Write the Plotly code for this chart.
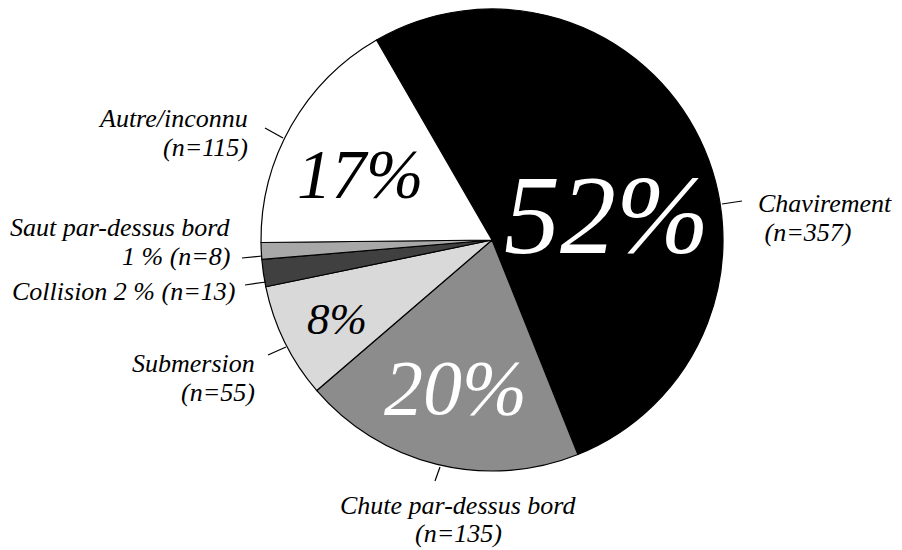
import plotly.graph_objects as go

# Causes of boating fatalities (counts), clockwise from the top-left
categories = ["Chavirement", "Chute par-dessus bord", "Submersion",
              "Collision", "Saut par-dessus bord", "Autre/inconnu"]
counts = [357, 135, 55, 13, 8, 115]
percent_text = ["52%", "20%", "8%", "", "", "17%"]
label_lines = [
    ["Chavirement", " (n=357)"],
    ["Chute par-dessus bord", "(n=135)"],
    ["Submersion", "(n=55)"],
    ["Collision 2 % (n=13)"],
    ["Saut par-dessus bord", "1 % (n=8)"],
    ["Autre/inconnu", "(n=115)"],
]
slice_colors = ["#000000", "#8c8c8c", "#d9d9d9", "#404040", "#a8a8a8", "#ffffff"]

W, H = 902, 550
FONT = "Liberation Serif"


def px(x):
    return x / W


def py(y):
    return 1 - y / H


# Pie geometry in pixels
cx, cy, r = 492, 240, 231

fig = go.Figure(go.Pie(
    labels=categories,
    values=counts,
    sort=False,
    direction="clockwise",
    rotation=-30,
    marker=dict(colors=slice_colors, line=dict(color="#000000", width=1.2)),
    textinfo="none",
    hoverinfo="label+value+percent",
    domain=dict(x=[px(cx - r), px(cx + r)], y=[py(cy + r), py(cy - r)]),
    showlegend=False,
))

# Percentages written inside the slices
inside = [
    (percent_text[0], 606, 215, 112, "#ffffff"),
    (percent_text[5], 360, 175, 69, "#000000"),
    (percent_text[1], 456, 387, 78, "#ffffff"),
    (percent_text[2], 337, 319, 45, "#000000"),
]
annotations = []
for txt, x, y, size, col in inside:
    annotations.append(dict(
        x=px(x), y=py(y), xref="paper", yref="paper", text=f"<i>{txt}</i>",
        showarrow=False, xanchor="center", yanchor="middle",
        font=dict(family=FONT, size=size, color=col)))

# Category labels around the pie: anchor x, first-line y, line gap, anchor side
outer = [
    (0, 756, 204, 29, "left"),
    (1, 458, 505, 28, "center"),
    (2, 257, 363, 29, "right"),
    (3, 237, 291, 29, "right"),
    (4, 233, 227, 29, "right"),
    (5, 250, 118, 29, "right"),
]
for idx, x, y, gap, anchor in outer:
    for k, line in enumerate(label_lines[idx]):
        annotations.append(dict(
            x=px(x), y=py(y + k * gap), xref="paper", yref="paper",
            text=f"<i>{line}</i>", showarrow=False,
            xanchor=anchor, yanchor="middle",
            font=dict(family=FONT, size=26, color="#000000")))

# Short leader lines from the rim to each label
leaders = [
    (722, 204, 742, 201),
    (440, 467, 435, 481),
    (268, 355, 286, 347),
    (245, 285, 266, 282),
    (242, 258, 262, 256),
    (265, 128, 283, 138),
]
shapes = [dict(type="line", xref="paper", yref="paper",
               x0=px(a), y0=py(b), x1=px(c), y1=py(d),
               line=dict(color="#000000", width=1.2))
          for a, b, c, d in leaders]

fig.update_layout(
    width=W, height=H,
    margin=dict(l=0, r=0, t=0, b=0),
    font=dict(family=FONT),
    paper_bgcolor="#ffffff",
    plot_bgcolor="#ffffff",
    annotations=annotations,
    shapes=shapes,
)

fig.write_html("out.html")
